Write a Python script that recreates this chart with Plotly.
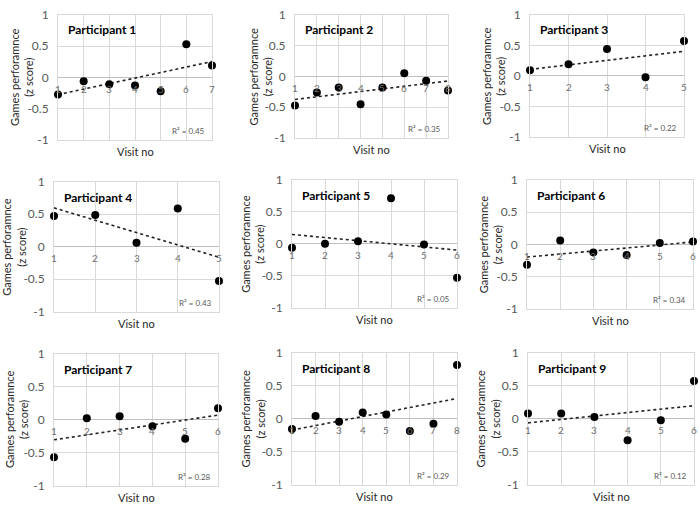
import numpy as np
import plotly.graph_objects as go

# ---- data ----
titles = ["Participant 1", "Participant 2", "Participant 3",
          "Participant 4", "Participant 5", "Participant 6",
          "Participant 7", "Participant 8", "Participant 9"]

p1 = [-0.275, -0.06, -0.11, -0.13, -0.22, 0.53, 0.19]
p2 = [-0.47, -0.26, -0.18, -0.45, -0.18, 0.05, -0.07, -0.23]
p3 = [0.095, 0.19, 0.44, -0.02, 0.57]
p4 = [0.475, 0.49, 0.06, 0.59, -0.525]
p5 = [-0.06, 0.0, 0.04, 0.71, -0.01, -0.53]
p6 = [-0.315, 0.06, -0.125, -0.165, 0.02, 0.045]
p7 = [-0.57, 0.02, 0.05, -0.10, -0.29, 0.17]
p8 = [-0.16, 0.04, -0.05, 0.09, 0.06, -0.19, -0.08, 0.81]
p9 = [0.075, 0.075, 0.025, -0.33, -0.025, 0.57]
series = [p1, p2, p3, p4, p5, p6, p7, p8, p9]

r2_labels = ["R² = 0.45", "R² = 0.35", "R² = 0.22",
             "R² = 0.43", "R² = 0.05", "R² = 0.34",
             "R² = 0.28", "R² = 0.29", "R² = 0.12"]

y_tickvals = [-1, -0.5, 0, 0.5, 1]
y_ticktext = ["-1", "-0.5", "0", "0.5", "1"]
x_title = "Visit no"
y_title = "Games perforamnce<br>(z score)"

# ---- layout geometry (pixels: left, right, top, bottom) ----
W, H = 700, 510
boxes = [(58, 212, 7, 136), (295, 448, 7, 134), (530, 684, 7, 133),
         (54, 219, 179, 313), (292, 457, 177, 309), (527, 693, 177, 310),
         (54, 218, 356, 492), (292, 457, 355, 491), (528, 694, 355, 491)]
ytitle_offset = [36.5, 35, 36, 40, 39, 37, 37.5, 39, 40]

FONT = "Lato"
GRID = "#d9d9d9"
TICK = "#595959"

fig = go.Figure()
annotations = []
layout = {}

for k, (vals, box) in enumerate(zip(series, boxes)):
    idx = "" if k == 0 else str(k + 1)
    xa, ya = "x" + idx, "y" + idx
    n = len(vals)
    xs = np.arange(1, n + 1)
    ys = np.array(vals)

    # trendline (linear least-squares fit)
    slope, icpt = np.polyfit(xs, ys, 1)
    xt = np.array([1, n])
    fig.add_trace(go.Scatter(x=xt, y=slope * xt + icpt, mode="lines",
                             line=dict(color="#222222", width=1.6, dash="dot"),
                             xaxis=xa, yaxis=ya, showlegend=False,
                             hoverinfo="skip", cliponaxis=False))
    fig.add_trace(go.Scatter(x=xs, y=ys, mode="markers",
                             marker=dict(color="black", size=8),
                             xaxis=xa, yaxis=ya, showlegend=False,
                             cliponaxis=False))

    l, r, t, b = box
    xdom = [l / W, r / W]
    ydom = [1 - b / H, 1 - t / H]
    layout["xaxis" + idx] = dict(domain=xdom, anchor=ya, range=[1, n],
                                 dtick=1, tick0=1, showgrid=True, gridcolor=GRID,
                                 showticklabels=False, zeroline=False,
                                 showline=True, linecolor=GRID, mirror=True,
                                 ticks="")
    layout["yaxis" + idx] = dict(domain=ydom, anchor=xa, range=[-1, 1],
                                 tickvals=y_tickvals, ticktext=y_ticktext,
                                 showgrid=True, gridcolor=GRID,
                                 zeroline=True, zerolinecolor="#bfbfbf",
                                 zerolinewidth=1,
                                 showline=True, linecolor=GRID, mirror=True,
                                 ticks="", ticklabelstandoff=6,
                                 tickfont=dict(family=FONT, size=12, color=TICK))

    # x tick labels beside the zero line
    for i in xs:
        annotations.append(dict(x=int(i), y=-0.18, xref=xa, yref=ya,
                                text=str(int(i)), showarrow=False,
                                font=dict(family=FONT, size=10, color="#6f6f6f"),
                                xanchor="center", yanchor="middle"))
    # participant title
    annotations.append(dict(x=0.05, y=0.88, xref=xa + " domain", yref=ya + " domain",
                            text="<b>" + titles[k] + "</b>", showarrow=False,
                            font=dict(family=FONT, size=12, color="black"),
                            xanchor="left", yanchor="middle"))
    # R² label
    annotations.append(dict(x=(r - 5) / W, y=1 - (b - 9) / H, xref="paper", yref="paper",
                            text=r2_labels[k], showarrow=False,
                            font=dict(family=FONT, size=8, color=TICK),
                            xanchor="right", yanchor="middle"))
    # x title
    annotations.append(dict(x=(l + r) / 2 / W, y=1 - (b + 12) / H, xref="paper", yref="paper",
                            text=x_title, showarrow=False,
                            font=dict(family=FONT, size=11, color="#262626"),
                            xanchor="center", yanchor="middle"))
    # y title
    annotations.append(dict(x=(l - ytitle_offset[k]) / W, y=1 - (t + b) / 2 / H,
                            xref="paper", yref="paper",
                            text=y_title, showarrow=False, textangle=-90,
                            font=dict(family=FONT, size=11, color="#262626"),
                            xanchor="center", yanchor="middle"))

fig.update_layout(width=W, height=H, margin=dict(l=0, r=0, t=0, b=0),
                  plot_bgcolor="white", paper_bgcolor="white",
                  annotations=annotations, **layout)

fig.write_html("out.html",
               config={"displayModeBar": False},
               post_script="document.body.style.margin='0';"
                           "document.body.style.overflow='hidden';")
